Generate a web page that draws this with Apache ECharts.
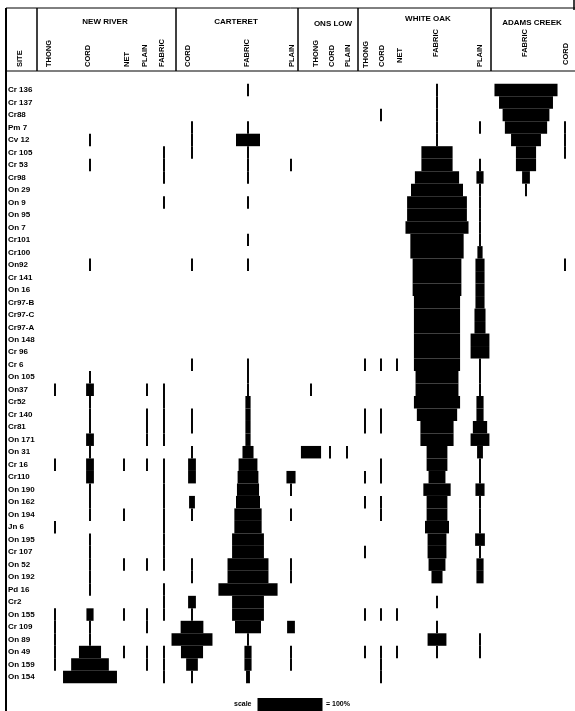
<!DOCTYPE html>
<html><head><meta charset="utf-8">
<script src="https://cdn.jsdelivr.net/npm/echarts@6/dist/echarts.min.js"></script>
<style>html,body{margin:0;padding:0;background:#fff}#c{width:575px;height:711px}</style>
</head><body><div id="c"></div>
<script>
// ---------------- DATA ----------------
const sites = ["Cr 136","Cr 137","Cr88","Pm 7","Cv 12","Cr 105","Cr 53","Cr98","On 29","On 9","On 95","On 7",
  "Cr101","Cr100","On92","Cr 141","On 16","Cr97-B","Cr97-C","Cr97-A","On 148","Cr 96","Cr 6","On 105",
  "On37","Cr52","Cr 140","Cr81","On 171","On 31","Cr 16","Cr110","On 190","On 162","On 194","Jn 6",
  "On 195","Cr 107","On 52","On 192","Pd 16","Cr2","On 155","Cr 109","On 89","On 49","On 159","On 154"];

const groupNames = ["NEW RIVER","CARTERET","ONS LOW","WHITE OAK","ADAMS CREEK"];
const siteHeader = "SITE";
const typeNames = ["THONG","CORD","NET","PLAIN","FABRIC","CORD","FABRIC","PLAIN","THONG","CORD","PLAIN",
  "THONG","CORD","NET","FABRIC","PLAIN","FABRIC","CORD"];
const scaleLabel = "scale";
const scaleValue = 100;
const scaleText = "= 100%";

// percentages per site (3 = trace present)
const newRiverThong = [0,0,0,0,0,0,0,0, 0,0,0,0,0,0,0,0, 0,0,0,0,0,0,0,0, 3,0,0,0,0,0,3,0, 0,0,0,3,0,0,0,0, 0,0,3,3,3,3,3,0];
const newRiverCord  = [0,0,0,0,3,0,3,0, 0,0,0,0,0,0,3,0, 0,0,0,0,0,0,0,3, 12,3,3,3,12,3,12,12, 3,3,3,0,3,3,3,3, 3,0,11,3,3,34,58,83];
const newRiverNet   = [0,0,0,0,0,0,0,0, 0,0,0,0,0,0,0,0, 0,0,0,0,0,0,0,0, 0,0,0,0,0,0,3,0, 0,0,3,0,0,0,3,0, 0,0,3,0,0,3,0,0];
const newRiverPlain = [0,0,0,0,0,0,0,0, 0,0,0,0,0,0,0,0, 0,0,0,0,0,0,0,0, 3,0,3,3,3,0,3,0, 0,0,0,0,0,0,3,0, 0,0,3,3,0,3,3,0];
const newRiverFabric= [0,0,0,0,0,3,3,3, 0,3,0,0,0,0,0,0, 0,0,0,0,0,0,0,0, 3,3,3,3,3,0,3,3, 3,3,3,3,3,3,3,0, 3,3,3,0,0,3,3,3];
const carteretCord  = [0,0,0,3,3,3,0,0, 0,0,0,0,0,0,3,0, 0,0,0,0,0,0,3,0, 0,0,3,3,0,3,12,12, 0,9,3,0,0,0,3,3, 0,12,3,35,63,34,18,3];
const carteretFabric= [3,0,0,3,37,3,3,3, 0,3,0,0,3,0,3,0, 0,0,0,0,0,0,3,3, 3,8,8,8,8,17,29,32, 34,37,42,42,49,49,63,63, 91,49,49,40,3,11,11,6];
const carteretPlain = [0,0,0,0,0,0,3,0, 0,0,0,0,0,0,0,0, 0,0,0,0,0,0,0,0, 0,0,0,0,0,0,0,14, 3,0,3,0,0,0,3,3, 0,0,0,12,0,3,3,0];
const onslowThong   = [0,0,0,0,0,0,0,0, 0,0,0,0,0,0,0,0, 0,0,0,0,0,0,0,0, 3,0,0,0,0,31,0,0, 0,0,0,0,0,0,0,0, 0,0,0,0,0,0,0,0];
const onslowCord    = [0,0,0,0,0,0,0,0, 0,0,0,0,0,0,0,0, 0,0,0,0,0,0,0,0, 0,0,0,0,0,3,0,0, 0,0,0,0,0,0,0,0, 0,0,0,0,0,0,0,0];
const onslowPlain   = [0,0,0,0,0,0,0,0, 0,0,0,0,0,0,0,0, 0,0,0,0,0,0,0,0, 0,0,0,0,0,3,0,0, 0,0,0,0,0,0,0,0, 0,0,0,0,0,0,0,0];
const whiteOakThong = [0,0,0,0,0,0,0,0, 0,0,0,0,0,0,0,0, 0,0,0,0,0,0,3,0, 0,0,3,3,0,0,0,3, 0,3,0,0,0,3,0,0, 0,0,3,0,0,3,0,0];
const whiteOakCord  = [0,0,3,0,0,0,0,0, 0,0,0,0,0,0,0,0, 0,0,0,0,0,0,3,0, 0,0,3,3,0,0,3,3, 0,3,3,0,0,0,0,0, 0,0,3,0,0,3,3,3];
const whiteOakNet   = [0,0,0,0,0,0,0,0, 0,0,0,0,0,0,0,0, 0,0,0,0,0,0,3,0, 0,0,0,0,0,0,0,0, 0,0,0,0,0,0,0,0, 0,0,3,0,0,3,0,0];
const whiteOakFabric= [3,3,3,3,3,48,48,68, 80,92,92,97,82,82,75,75, 75,71,71,71,71,71,71,66, 66,71,62,51,51,32,32,26, 42,32,32,37,29,29,26,17, 0,3,0,3,29,3,0,0];
const whiteOakPlain = [0,0,0,3,0,0,3,11, 3,3,3,3,3,8,14,14, 14,14,17,17,29,29,3,3, 3,11,11,22,29,9,3,3, 14,3,3,3,15,3,11,11, 0,0,0,0,3,3,0,0];
const adamsFabric   = [97,83,72,65,46,31,31,12, 3,0,0,0,0,0,0,0, 0,0,0,0,0,0,0,0, 0,0,0,0,0,0,0,0, 0,0,0,0,0,0,0,0, 0,0,0,0,0,0,0,0];
const adamsCord     = [0,0,0,3,3,3,0,0, 0,0,0,0,0,0,3,0, 0,0,0,0,0,0,0,0, 0,0,0,0,0,0,0,0, 0,0,0,0,0,0,0,0, 0,0,0,0,0,0,0,0];

const columnValues = [newRiverThong,newRiverCord,newRiverNet,newRiverPlain,newRiverFabric,
  carteretCord,carteretFabric,carteretPlain,onslowThong,onslowCord,onslowPlain,
  whiteOakThong,whiteOakCord,whiteOakNet,whiteOakFabric,whiteOakPlain,adamsFabric,adamsCord];

// ---------------- LAYOUT ----------------
const colCenters = [55,90,124,147,164, 192,248,291, 311,330,347, 365,381,397,437,480, 526,565];
const typeLabelX = [49,88,127,145,162, 188,247,292, 316,332,348, 366,382,400,436,480, 525,566];
const typeLabelBottom = [67,67,67,67,67, 67,67,67, 67,67,67, 68,67,63,57,67, 57,65];
const groupX = [105,236,333,428,532];
const groupY = [22,22,24,19,23];
const dividers = [37,176,298,358,491];
const ROW_TOP = 83.75, ROW_H = 599.5, PX100 = 65;
const FONT = "'Liberation Sans', Arial, sans-serif";

function renderItem(params, api) {
  const v = api.value(0), y = api.value(1);
  const p1 = api.coord([-v / 2, y]);
  const p2 = api.coord([v / 2, y]);
  const h = api.size([0, 1])[1];
  return {type: 'rect', shape: {x: p1[0], y: p1[1] - h / 2, width: p2[0] - p1[0], height: h},
    style: {fill: '#000'}};
}

const grids = [], xAxes = [], yAxes = [], series = [];
// site label grid
grids.push({left: 6, top: ROW_TOP, width: 30, height: ROW_H, outerBoundsMode: 'none'});
xAxes.push({gridIndex: 0, type: 'value', show: false, min: 0, max: 1});
yAxes.push({gridIndex: 0, type: 'category', data: sites, inverse: true,
  axisLine: {show: false}, axisTick: {show: false}, splitLine: {show: false},
  axisLabel: {inside: true, margin: 2, interval: 0, fontSize: 8, fontWeight: 'bold', color: '#000', fontFamily: FONT}});

columnValues.forEach((vals, k) => {
  const gi = grids.length;
  grids.push({left: colCenters[k] - PX100 / 2, top: ROW_TOP, width: PX100, height: ROW_H, outerBoundsMode: 'none'});
  xAxes.push({gridIndex: gi, type: 'value', min: -50, max: 50, show: false});
  yAxes.push({gridIndex: gi, type: 'category', data: sites, inverse: true, show: false});
  series.push({type: 'custom', xAxisIndex: gi, yAxisIndex: gi, renderItem: renderItem, silent: true,
    encode: {x: 0, y: 1},
    data: vals.map((v, i) => [v, i]).filter(d => d[0] > 0)});
});

// scale grid
{
  const gi = grids.length;
  grids.push({left: 290 - PX100 / 2, top: 698, width: PX100, height: 13, outerBoundsMode: 'none'});
  xAxes.push({gridIndex: gi, type: 'value', min: -50, max: 50, show: false});
  yAxes.push({gridIndex: gi, type: 'category', data: [scaleLabel],
    axisLine: {show: false}, axisTick: {show: false},
    axisLabel: {margin: 6, fontSize: 7, fontWeight: 'bold', color: '#000', fontFamily: FONT}});
  series.push({type: 'custom', xAxisIndex: gi, yAxisIndex: gi, renderItem: renderItem, silent: true,
    encode: {x: 0, y: 1}, data: [[scaleValue, 0]]});
}

// ---------------- GRAPHICS (frame + header text) ----------------
const g = [];
const line = (x1, y1, x2, y2, w) => g.push({type: 'line', shape: {x1, y1, x2, y2}, style: {stroke: '#000', lineWidth: w || 1.5}, silent: true});
line(6, 8, 6, 711, 2);
line(6, 8, 575, 8, 1);
line(6, 71, 575, 71, 1.2);
line(574, 0, 574, 10, 1.5);
dividers.forEach(x => line(x, 8, x, 71, 1.5));
groupNames.forEach((t, i) => g.push({type: 'text', x: groupX[i], y: groupY[i], silent: true,
  style: {text: t, fill: '#000', font: 'bold 8px ' + FONT, align: 'center', textAlign: 'center', verticalAlign: 'middle', textVerticalAlign: 'middle'}}));
const rot = (t, x, y) => g.push({type: 'text', x: x, y: y, rotation: Math.PI / 2, silent: true,
  style: {text: t, fill: '#000', font: 'bold 7.5px ' + FONT, align: 'left', textAlign: 'left', verticalAlign: 'middle', textVerticalAlign: 'middle'}});
rot(siteHeader, 20, 67);
typeNames.forEach((t, i) => rot(t, typeLabelX[i], typeLabelBottom[i]));
g.push({type: 'text', x: 326, y: 704, silent: true,
  style: {text: scaleText, fill: '#000', font: 'bold 7px ' + FONT, align: 'left', textAlign: 'left', verticalAlign: 'middle', textVerticalAlign: 'middle'}});

const chart = echarts.init(document.getElementById('c'), null, {renderer: 'canvas'});
chart.setOption({
  animation: false,
  backgroundColor: '#fff',
  grid: grids, xAxis: xAxes, yAxis: yAxes, series: series,
  graphic: {elements: g}
});
</script>
</body></html>
